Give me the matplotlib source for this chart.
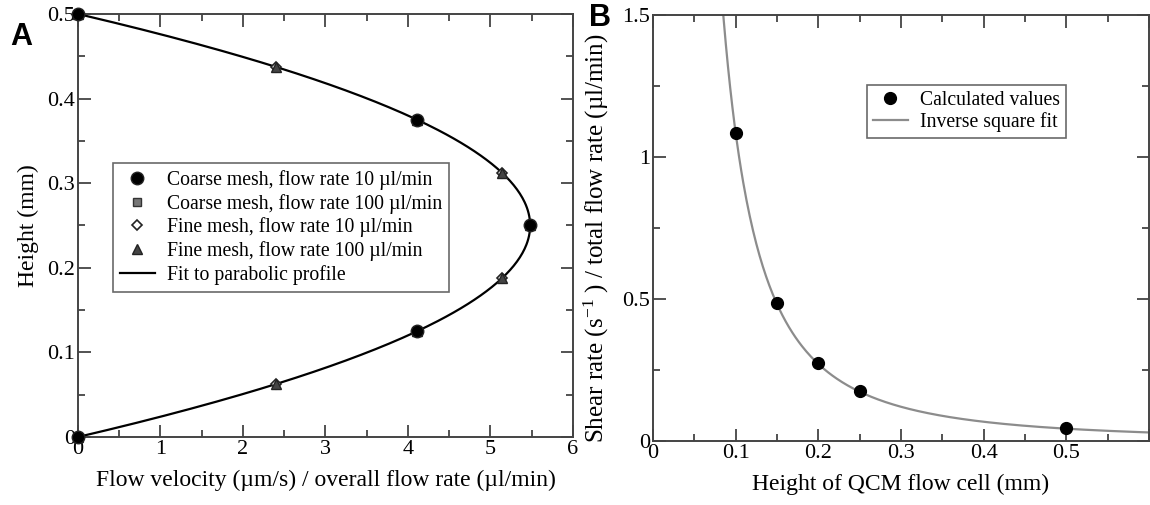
import numpy as np
import matplotlib
matplotlib.use("Agg")
import matplotlib.pyplot as plt
from matplotlib.ticker import MultipleLocator, FuncFormatter

# ---------------------------------------------------------------------------
# Data
# Panel A: normalised flow velocity across the cell height
height_coarse = [0.0, 0.125, 0.25, 0.375, 0.5]
vel_coarse_10 = [0.0, 4.11, 5.48, 4.11, 0.0]
vel_coarse_100 = [0.0, 4.11, 5.48, 4.11, 0.0]
height_fine = [0.0, 0.0625, 0.125, 0.1875, 0.25, 0.3125, 0.375, 0.4375, 0.5]
vel_fine_10 = [0.0, 2.40, 4.11, 5.14, 5.48, 5.14, 4.11, 2.40, 0.0]
vel_fine_100 = [0.0, 2.40, 4.11, 5.14, 5.48, 5.14, 4.11, 2.40, 0.0]

# Panel B: shear rate per flow rate versus cell height
cell_height = [0.10, 0.15, 0.20, 0.25, 0.50]
shear_rate = [1.083, 0.485, 0.274, 0.176, 0.047]

labels_a = ['Coarse mesh, flow rate 10 \u00b5l/min',
            'Coarse mesh, flow rate 100 \u00b5l/min',
            'Fine mesh, flow rate 10 \u00b5l/min',
            'Fine mesh, flow rate 100 \u00b5l/min',
            'Fit to parabolic profile']
labels_b = ['Calculated values', 'Inverse square fit']
# ---------------------------------------------------------------------------

plt.rcParams['font.family'] = ['Liberation Serif', 'DejaVu Serif']
plt.rcParams['mathtext.default'] = 'regular'

axis_color = '#444444'
fmt = FuncFormatter(lambda v, p: '%g' % v)


def style_axes(ax):
    for sp in ax.spines.values():
        sp.set_color(axis_color)
        sp.set_linewidth(1.4)
    ax.tick_params(which='both', direction='in', top=True, right=True,
                   color=axis_color, width=1.3, labelsize=16, pad=2)
    ax.tick_params(which='major', length=9)
    ax.tick_params(which='minor', length=5)


fig = plt.figure(figsize=(11.5, 5.05), dpi=100)

# Panel A ---------------------------------------------------------------------
ax1 = fig.add_axes([0.0678, 0.1347, 0.4304, 0.8376])

# parabolic fit through all simulated points
h_all = np.array(height_fine + height_coarse)
v_all = np.array(vel_fine_10 + vel_coarse_10)
coef = np.polyfit(h_all, v_all, 2)
h_fit = np.linspace(0, 0.5, 300)
v_fit = np.polyval(coef, h_fit)

p1, = ax1.plot(vel_coarse_10, height_coarse, 'o', color='black', ms=9,
               mec='#222222', ls='none', zorder=6, clip_on=False)
p2, = ax1.plot(vel_coarse_100, height_coarse, 's', color='#777777', ms=6,
               mec='#333333', ls='none', zorder=3, clip_on=False)
p3, = ax1.plot(vel_fine_10, height_fine, 'D', color='white', ms=5,
               mec='#222222', mew=1.2, ls='none', zorder=4, clip_on=False)
p4, = ax1.plot(vel_fine_100, height_fine, '^', color='#444444', ms=7,
               mec='#222222', ls='none', zorder=5, clip_on=False)
p5, = ax1.plot(v_fit, h_fit, '-', color='black', lw=1.6, zorder=2)

ax1.set_xlim(0, 6)
ax1.set_ylim(0, 0.5)
ax1.xaxis.set_major_locator(MultipleLocator(1))
ax1.xaxis.set_minor_locator(MultipleLocator(0.5))
ax1.yaxis.set_major_locator(MultipleLocator(0.1))
ax1.yaxis.set_minor_locator(MultipleLocator(0.05))
ax1.xaxis.set_major_formatter(fmt)
ax1.yaxis.set_major_formatter(fmt)
style_axes(ax1)
ax1.set_xlabel('Flow velocity (\u00b5m/s) / overall flow rate (\u00b5l/min)',
               fontsize=17, labelpad=8)
ax1.set_ylabel('Height (mm)', fontsize=17, labelpad=6)

leg1 = ax1.legend([p1, p2, p3, p4, p5], labels_a, loc='upper left',
                  bbox_to_anchor=(0.07, 0.648), fontsize=14.2, frameon=True,
                  fancybox=False, edgecolor=axis_color, handlelength=1.8,
                  handletextpad=0.6, borderpad=0.35, labelspacing=0.2,
                  borderaxespad=0)
leg1.get_frame().set_linewidth(1.2)

fig.text(0.009, 0.911, 'A', family=['Liberation Sans', 'DejaVu Sans'],
         fontsize=22, fontweight='bold')

# Panel B ---------------------------------------------------------------------
ax2 = fig.add_axes([0.5678, 0.1267, 0.4313, 0.8436])

h_arr = np.array(cell_height)
s_arr = np.array(shear_rate)
# least-squares inverse square fit  s = a / h^2
a_fit = np.sum(s_arr / h_arr ** 2) / np.sum(1.0 / h_arr ** 4)
hh = np.linspace(0.075, 0.6, 400)
q1, = ax2.plot(hh, a_fit / hh ** 2, '-', color='#8c8c8c', lw=1.6, zorder=2)
q2, = ax2.plot(cell_height, shear_rate, 'o', color='black', ms=8.5,
               ls='none', zorder=3)

ax2.set_xlim(0, 0.6)
ax2.set_ylim(0, 1.5)
ax2.xaxis.set_major_locator(MultipleLocator(0.1))
ax2.xaxis.set_minor_locator(MultipleLocator(0.05))
ax2.yaxis.set_major_locator(MultipleLocator(0.5))
ax2.yaxis.set_minor_locator(MultipleLocator(0.25))
ax2.xaxis.set_major_formatter(FuncFormatter(
    lambda v, p: '' if v > 0.55 else '%g' % round(v, 2)))
ax2.yaxis.set_major_formatter(fmt)
style_axes(ax2)
ax2.set_xlabel('Height of QCM flow cell (mm)', fontsize=17, labelpad=8)
ax2.set_ylabel('Shear rate (s$^{-1}$ ) / total flow rate (\u00b5l/min)',
               fontsize=18, labelpad=6)
ax2.yaxis.set_label_coords(-0.084, 0.475)

leg2 = ax2.legend([q2, q1], labels_b, loc='upper left',
                  bbox_to_anchor=(0.431, 0.836), fontsize=14.2, frameon=True,
                  fancybox=False, edgecolor=axis_color, handlelength=1.8,
                  handletextpad=0.6, borderpad=0.3, labelspacing=0.1,
                  borderaxespad=0)
leg2.get_frame().set_linewidth(1.2)

fig.text(0.512, 0.948, 'B', family=['Liberation Sans', 'DejaVu Sans'],
         fontsize=22, fontweight='bold')

fig.savefig('out.png', dpi=100)
plt.close(fig)
